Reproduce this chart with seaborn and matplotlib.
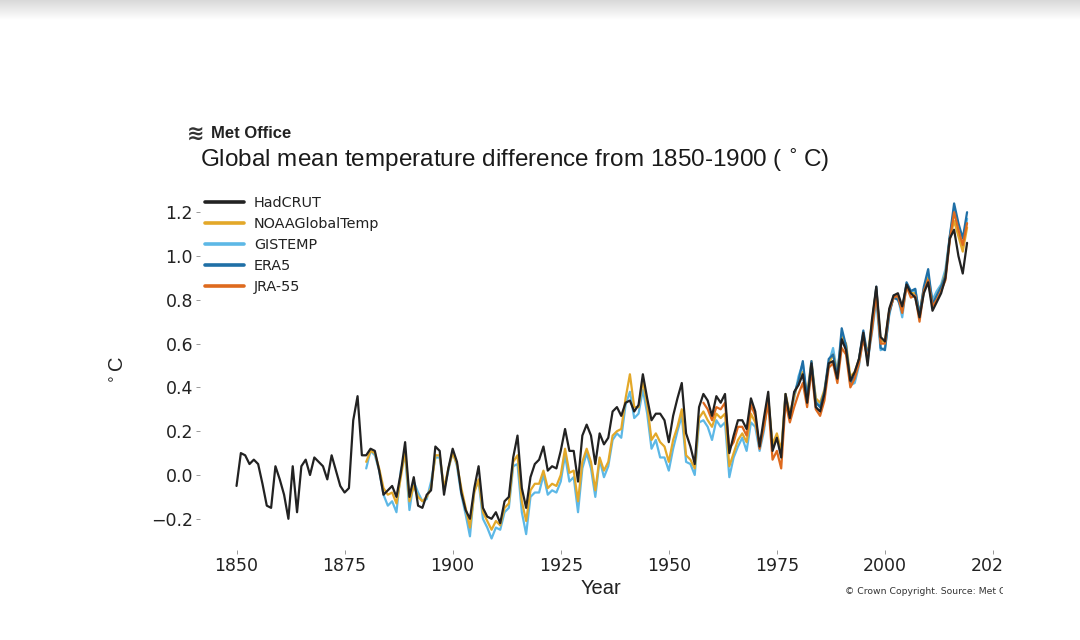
import numpy as np
import pandas as pd
import matplotlib
matplotlib.use("Agg")
import matplotlib.pyplot as plt
from matplotlib.patches import Rectangle
from matplotlib.lines import Line2D
import seaborn as sns

# ---------------- data ----------------
years_hadcrut = list(range(1850, 2020))
hadcrut = [
    -0.05, 0.10, 0.09, 0.05, 0.07, 0.05, -0.04, -0.14, -0.15, 0.04,
    -0.02, -0.09, -0.20, 0.04, -0.17, 0.04, 0.07, 0.00, 0.08, 0.06,
    0.04, -0.02, 0.09, 0.02, -0.05, -0.08, -0.06, 0.25, 0.36, 0.09,
    0.09, 0.12, 0.11, 0.02, -0.09, -0.07, -0.05, -0.10, 0.01, 0.15,
    -0.10, -0.01, -0.14, -0.15, -0.09, -0.07, 0.13, 0.11, -0.09, 0.03,
    0.12, 0.06, -0.08, -0.16, -0.20, -0.06, 0.04, -0.15, -0.19, -0.20,
    -0.17, -0.22, -0.12, -0.10, 0.08, 0.18, -0.06, -0.15, -0.01, 0.05,
    0.07, 0.13, 0.02, 0.04, 0.03, 0.11, 0.21, 0.11, 0.11, -0.03,
    0.18, 0.23, 0.18, 0.05, 0.19, 0.14, 0.17, 0.29, 0.31, 0.27,
    0.33, 0.34, 0.29, 0.32, 0.46, 0.35, 0.25, 0.28, 0.28, 0.25,
    0.15, 0.27, 0.35, 0.42, 0.19, 0.13, 0.05, 0.31, 0.37, 0.34,
    0.27, 0.36, 0.33, 0.37, 0.10, 0.18, 0.25, 0.25, 0.21, 0.35,
    0.29, 0.13, 0.26, 0.38, 0.11, 0.17, 0.08, 0.37, 0.26, 0.38,
    0.41, 0.46, 0.33, 0.51, 0.31, 0.29, 0.37, 0.51, 0.52, 0.44,
    0.62, 0.57, 0.43, 0.47, 0.53, 0.65, 0.50, 0.71, 0.86, 0.63,
    0.61, 0.76, 0.82, 0.83, 0.77, 0.87, 0.83, 0.81, 0.72, 0.83,
    0.88, 0.75, 0.79, 0.83, 0.90, 1.08, 1.12, 1.00, 0.92, 1.06,
]

years_noaa = list(range(1880, 2020))
noaa = [
    0.06, 0.11, 0.10, 0.03, -0.06, -0.09, -0.08, -0.13, -0.01, 0.11,
    -0.12, -0.05, -0.10, -0.12, -0.10, -0.06, 0.09, 0.09, -0.06, 0.03,
    0.10, 0.05, -0.06, -0.15, -0.24, -0.08, -0.02, -0.17, -0.21, -0.25,
    -0.21, -0.23, -0.15, -0.13, 0.06, 0.09, -0.12, -0.21, -0.07, -0.04,
    -0.04, 0.02, -0.06, -0.04, -0.05, 0.00, 0.12, 0.01, 0.02, -0.12,
    0.06, 0.12, 0.06, -0.07, 0.08, 0.02, 0.06, 0.18, 0.20, 0.21,
    0.35, 0.46, 0.31, 0.31, 0.43, 0.32, 0.16, 0.19, 0.15, 0.13,
    0.06, 0.16, 0.22, 0.30, 0.09, 0.07, 0.03, 0.26, 0.29, 0.25,
    0.22, 0.28, 0.26, 0.28, 0.04, 0.10, 0.16, 0.19, 0.15, 0.28,
    0.24, 0.14, 0.22, 0.35, 0.14, 0.19, 0.11, 0.37, 0.28, 0.36,
    0.43, 0.47, 0.37, 0.52, 0.35, 0.33, 0.39, 0.51, 0.55, 0.47,
    0.63, 0.60, 0.45, 0.47, 0.53, 0.64, 0.55, 0.70, 0.85, 0.61,
    0.61, 0.75, 0.81, 0.82, 0.76, 0.87, 0.83, 0.83, 0.74, 0.85,
    0.90, 0.78, 0.82, 0.86, 0.92, 1.08, 1.16, 1.09, 1.02, 1.13,
]

years_gistemp = list(range(1880, 2020))
gistemp = [
    0.03, 0.11, 0.09, 0.02, -0.09, -0.14, -0.12, -0.17, 0.02, 0.09,
    -0.16, -0.03, -0.08, -0.12, -0.11, -0.03, 0.08, 0.08, -0.07, 0.02,
    0.11, 0.04, -0.09, -0.18, -0.28, -0.07, -0.03, -0.20, -0.24, -0.29,
    -0.24, -0.25, -0.17, -0.15, 0.04, 0.05, -0.17, -0.27, -0.10, -0.08,
    -0.08, 0.00, -0.09, -0.07, -0.08, -0.03, 0.09, -0.03, -0.01, -0.17,
    0.03, 0.10, 0.03, -0.10, 0.07, -0.01, 0.04, 0.16, 0.19, 0.17,
    0.32, 0.38, 0.26, 0.28, 0.39, 0.28, 0.12, 0.16, 0.08, 0.08,
    0.02, 0.12, 0.20, 0.27, 0.06, 0.05, 0.00, 0.24, 0.25, 0.22,
    0.16, 0.25, 0.22, 0.24, -0.01, 0.08, 0.13, 0.17, 0.11, 0.24,
    0.22, 0.11, 0.20, 0.35, 0.12, 0.18, 0.09, 0.37, 0.26, 0.35,
    0.45, 0.51, 0.33, 0.50, 0.35, 0.31, 0.37, 0.51, 0.58, 0.46,
    0.64, 0.59, 0.41, 0.42, 0.50, 0.64, 0.52, 0.65, 0.80, 0.57,
    0.58, 0.73, 0.82, 0.81, 0.72, 0.87, 0.83, 0.85, 0.73, 0.84,
    0.91, 0.80, 0.84, 0.87, 0.94, 1.09, 1.21, 1.11, 1.04, 1.17,
]

years_era5 = list(range(1979, 2020))
era5 = [
    0.37, 0.43, 0.52, 0.35, 0.52, 0.33, 0.31, 0.38, 0.53, 0.55,
    0.45, 0.67, 0.59, 0.42, 0.45, 0.53, 0.66, 0.54, 0.68, 0.86,
    0.58, 0.57, 0.74, 0.81, 0.80, 0.75, 0.88, 0.84, 0.85, 0.73,
    0.86, 0.94, 0.78, 0.82, 0.86, 0.91, 1.09, 1.24, 1.15, 1.08,
    1.20,
]

years_jra55 = list(range(1958, 2020))
jra55 = [
    0.33, 0.30, 0.25, 0.31, 0.30, 0.33, 0.12, 0.15, 0.22, 0.22,
    0.18, 0.32, 0.27, 0.12, 0.22, 0.33, 0.07, 0.11, 0.03, 0.33,
    0.24, 0.31, 0.37, 0.42, 0.31, 0.48, 0.30, 0.27, 0.34, 0.49,
    0.51, 0.42, 0.58, 0.55, 0.40, 0.44, 0.51, 0.62, 0.53, 0.66,
    0.83, 0.60, 0.60, 0.75, 0.81, 0.82, 0.74, 0.86, 0.81, 0.82,
    0.70, 0.84, 0.89, 0.77, 0.80, 0.84, 0.89, 1.07, 1.20, 1.12,
    1.05, 1.15,
]

series_names = ["HadCRUT", "NOAAGlobalTemp", "GISTEMP", "ERA5", "JRA-55"]
series_colors = ["#222222", "#E3A829", "#5DB8E6", "#1F6FA6", "#DE6A1E"]
x_ticks = [1850, 1875, 1900, 1925, 1950, 1975, 2000, 2025]
y_ticks = [-0.2, 0.0, 0.2, 0.4, 0.6, 0.8, 1.0, 1.2]

# ---------------- figure ----------------
sns.set_style("white")
plt.rcParams["font.family"] = ["DejaVu Sans"]

W, H = 1080, 640
fig = plt.figure(figsize=(W / 100, H / 100), dpi=100)
fig.patch.set_facecolor("white")

ax_l, ax_r, ax_t, ax_b = 200, 1003.6, 190, 550
ax = fig.add_axes([ax_l / W, 1 - ax_b / H, (ax_r - ax_l) / W, (ax_b - ax_t) / H])

data = {
    "HadCRUT": (years_hadcrut, hadcrut),
    "NOAAGlobalTemp": (years_noaa, noaa),
    "GISTEMP": (years_gistemp, gistemp),
    "ERA5": (years_era5, era5),
    "JRA-55": (years_jra55, jra55),
}
color_of = dict(zip(series_names, series_colors))
draw_order = ["GISTEMP", "NOAAGlobalTemp", "ERA5", "JRA-55", "HadCRUT"]
for z, name in enumerate(draw_order):
    yrs, vals = data[name]
    df = pd.DataFrame({"Year": yrs, "value": vals})
    sns.lineplot(data=df, x="Year", y="value", ax=ax, color=color_of[name],
                 linewidth=1.6, zorder=2 + z, label=name, legend=False)

ax.set_xlim(1841.55, 2027.45)
ax.set_ylim(-(ax_b - 475) / 219.0, (475 - ax_t) / 219.0)
ax.set_xticks(x_ticks)
ax.set_yticks(y_ticks)
ax.set_yticklabels([f"{v:.1f}".replace("-", "\u2212") for v in y_ticks])
for s in ax.spines.values():
    s.set_visible(False)
ax.tick_params(axis="both", which="major", direction="out", length=3, width=0.7,
               color="#999999", labelsize=12.5, labelcolor="#222222", pad=2,
               bottom=True, left=True)
ax.set_xlabel("")
ax.set_ylabel("")

handles = [Line2D([0], [0], color=color_of[n], linewidth=2.6) for n in series_names]
leg = ax.legend(handles, series_names, loc="upper left",
                bbox_to_anchor=(205 / W, 1 - 196 / H), bbox_transform=fig.transFigure,
                frameon=False, fontsize=10.4, handlelength=2.7, handletextpad=0.7,
                labelspacing=0.48, borderpad=0, borderaxespad=0)
for t in leg.get_texts():
    t.set_color("#222222")

# text elements
fig.text(200 / W, 1 - 160 / H, "Global mean temperature difference from 1850-1900 ( $^{\\circ}\\,$C)",
         fontsize=17.5, family=["Liberation Sans", "DejaVu Sans"], color="#1a1a1a",
         va="center", ha="left")
fig.text(187 / W, 1 - 134 / H, "\u224b", fontsize=15, color="#333333",
         va="center", ha="left", family=["DejaVu Sans"], fontweight="bold")
fig.text(211 / W, 1 - 134 / H, "Met Office", fontsize=12,
         family=["Liberation Sans Narrow", "Liberation Sans", "DejaVu Sans"],
         fontweight="bold", color="#222222", va="center", ha="left")
fig.text(601 / W, 1 - 588 / H, "Year", fontsize=14.5,
         family=["Liberation Sans", "DejaVu Sans"], color="#222222", ha="center", va="center")
fig.text(119 / W, 1 - 370 / H, "$^{\\circ}\\,$C", fontsize=14.5, rotation=90,
         family=["Liberation Sans", "DejaVu Sans"], color="#222222", ha="center", va="center")
fig.text(845 / W, 1 - 592 / H, "\u00a9 Crown Copyright. Source: Met Office", fontsize=6.7,
         color="#333333", ha="left", va="center")

# page artefacts: cropped right edge and grey bar at top
fig.patches.append(Rectangle((1003 / W, 0), 1 - 1003 / W, 1 - 20 / H, transform=fig.transFigure,
                             facecolor="white", edgecolor="none", zorder=50))
bar = fig.add_axes([0, 1 - 20 / H, 1, 20 / H], zorder=60)
grad = np.linspace(0, 1, 50).reshape(-1, 1)
bar.imshow(grad, aspect="auto", cmap=matplotlib.colors.LinearSegmentedColormap.from_list(
    "g", ["#d9d9d9", "#ffffff"]), extent=[0, 1, 0, 1])
bar.set_axis_off()

fig.savefig("out.png", dpi=100, facecolor="white")
